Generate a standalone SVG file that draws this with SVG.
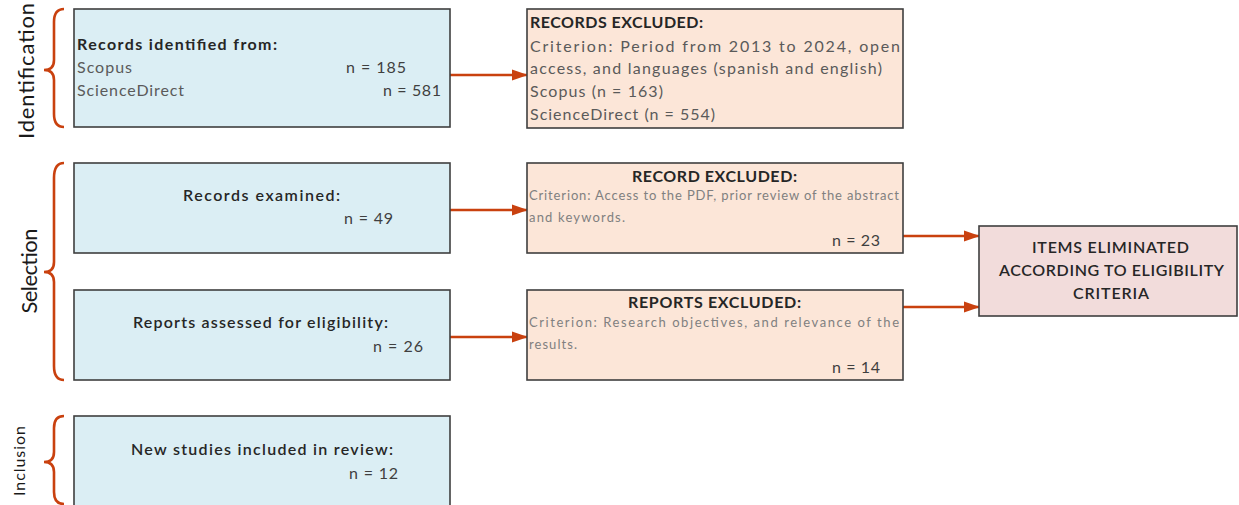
<svg xmlns="http://www.w3.org/2000/svg" width="1239" height="505" viewBox="0 0 1239 505">
<defs>
<marker id="ah" markerWidth="16" markerHeight="12" refX="15" refY="6" orient="auto" markerUnits="userSpaceOnUse">
<path d="M0,0.5 L16,6 L0,11.5 Z" fill="#C9410F"/>
</marker>
<style>
text{font-family:Lato,"Liberation Sans",sans-serif;}
.blue{fill:#DBEEF4;stroke:#3F3F3F;stroke-width:1.6;}
.peach{fill:#FCE6D8;stroke:#3F3F3F;stroke-width:1.6;}
.pink{fill:#F2DCDB;stroke:#3F3F3F;stroke-width:1.6;}
.hd{font-size:16px;font-weight:bold;fill:#262626;}
.sb{font-size:16px;font-weight:600;fill:#262626;}
.tx{font-size:16px;fill:#5A5A5A;}
.n{font-size:16px;fill:#3F3F3F;}
.sm{font-size:13px;fill:#808080;}
.conn{stroke:#C9410F;stroke-width:2.6;fill:none;}
.brace{stroke:#C9410F;stroke-width:2.6;fill:none;}
.stage{font-size:22px;fill:#1A1A1A;}
</style>
</defs>

<g id="stages">
<path class="brace" d="M64,9 Q54,9 54,22 L54,60 Q54,70 44,70 Q54,70 54,80 L54,114 Q54,127 64,127"/>
<text class="stage" transform="translate(34,71) rotate(-90)" text-anchor="middle" textLength="136">Identification</text>
<path class="brace" d="M64,163 Q54,163 54,178 L54,262 Q54,272 44,272 Q54,272 54,282 L54,366 Q54,380 64,380"/>
<text class="stage" transform="translate(37,271) rotate(-90)" text-anchor="middle" textLength="85">Selection</text>
<path class="brace" d="M64,416 Q54,416 54,428 L54,452 Q54,462 44,462 Q54,462 54,472 L54,492 Q54,504 64,504"/>
<text class="stage" style="font-size:16px" transform="translate(25,461) rotate(-90)" text-anchor="middle" textLength="70">Inclusion</text>
</g>

<g id="connectors">
<line class="conn" x1="450" y1="75" x2="527" y2="75" marker-end="url(#ah)"/>
<line class="conn" x1="450" y1="210" x2="527" y2="210" marker-end="url(#ah)"/>
<line class="conn" x1="450" y1="337" x2="527" y2="337" marker-end="url(#ah)"/>
<line class="conn" x1="903" y1="236" x2="979" y2="236" marker-end="url(#ah)"/>
<line class="conn" x1="903" y1="307" x2="979" y2="307" marker-end="url(#ah)"/>
</g>

<g id="identified">
<rect class="blue" x="74" y="9" width="376" height="118"/>
<text class="hd" x="77" y="50" textLength="200">Records identified from:</text>
<text class="tx" x="77" y="73" textLength="55">Scopus</text>
<text class="n" x="346" y="73" textLength="60">n = 185</text>
<text class="tx" x="77" y="96" textLength="107">ScienceDirect</text>
<text class="n" x="383" y="96" textLength="58">n = 581</text>
</g>

<g id="records-excluded">
<rect class="peach" x="527" y="9" width="376" height="119"/>
<text class="hd" x="530" y="28" textLength="173">RECORDS EXCLUDED:</text>
<text class="tx" x="530" y="52" textLength="370">Criterion: Period from 2013 to 2024, open</text>
<text class="tx" x="530" y="74" textLength="352">access, and languages (spanish and english)</text>
<text class="tx" x="530" y="97" textLength="133">Scopus (n = 163)</text>
<text class="tx" x="530" y="120" textLength="185">ScienceDirect (n = 554)</text>
</g>

<g id="examined">
<rect class="blue" x="74" y="163" width="376" height="90"/>
<text class="sb" x="183" y="201" textLength="157">Records examined:</text>
<text class="n" x="344" y="224" textLength="49">n = 49</text>
</g>

<g id="record-excluded">
<rect class="peach" x="527" y="163" width="376" height="90"/>
<text class="hd" x="632" y="182" textLength="165">RECORD EXCLUDED:</text>
<text class="sm" x="529" y="200" textLength="370">Criterion: Access to the PDF, prior review of the abstract</text>
<text class="sm" x="529" y="222" textLength="96">and keywords.</text>
<text class="n" x="832" y="246" textLength="48">n = 23</text>
</g>

<g id="assessed">
<rect class="blue" x="74" y="290" width="376" height="90"/>
<text class="sb" x="133" y="328" textLength="255">Reports assessed for eligibility:</text>
<text class="n" x="373" y="352" textLength="50">n = 26</text>
</g>

<g id="reports-excluded">
<rect class="peach" x="527" y="290" width="376" height="90"/>
<text class="hd" x="628" y="308" textLength="173">REPORTS EXCLUDED:</text>
<text class="sm" x="529" y="327" textLength="370">Criterion: Research objectives, and relevance of the</text>
<text class="sm" x="529" y="349" textLength="48">results.</text>
<text class="n" x="832" y="373" textLength="48">n = 14</text>
</g>

<g id="eliminated">
<rect class="pink" x="979" y="226" width="258" height="90"/>
<text class="sb" x="1032" y="253" textLength="157">ITEMS ELIMINATED</text>
<text class="sb" x="999" y="276" textLength="225">ACCORDING TO ELIGIBILITY</text>
<text class="sb" x="1073" y="299" textLength="76">CRITERIA</text>
</g>

<g id="included">
<rect class="blue" x="74" y="416" width="376" height="100"/>
<text class="sb" x="131" y="455" textLength="262">New studies included in review:</text>
<text class="n" x="349" y="479" textLength="49">n = 12</text>
</g>
</svg>
